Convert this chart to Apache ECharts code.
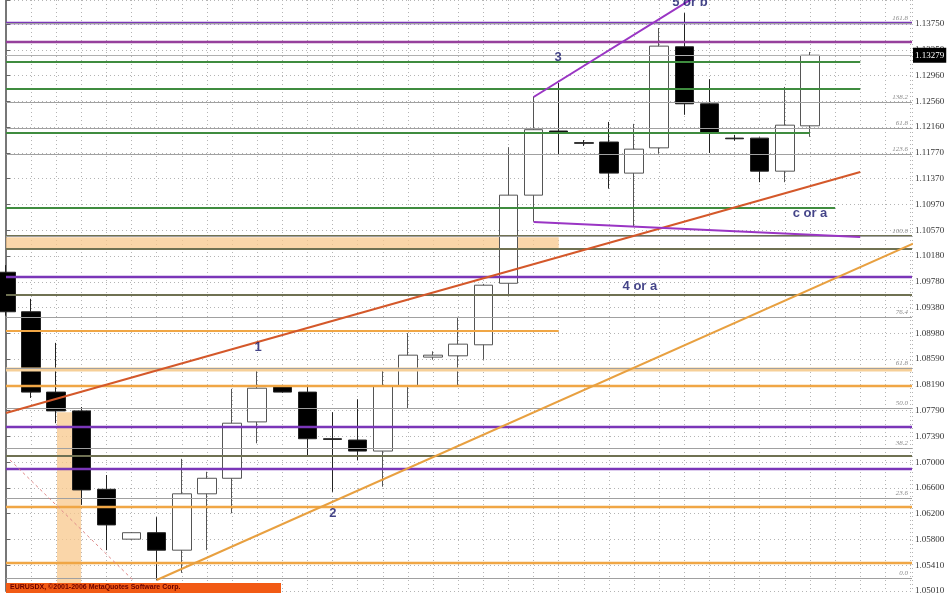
<!DOCTYPE html>
<html><head><meta charset="utf-8">
<script src="https://cdn.jsdelivr.net/npm/echarts@6/dist/echarts.min.js"></script>
<style>html,body{margin:0;padding:0;background:#fff}#c{width:948px;height:593px}</style>
</head><body><div id="c"></div>
<script>
// ---- data ----
const opens  = [1.0993,1.0932,1.0808,1.0779,1.0658,1.0581,1.0591,1.0564,1.0651,1.0675,1.0762,1.0817,1.0808,1.0736,1.0734,1.0717,1.0817,1.0862,1.0864,1.0881,1.0976,1.1112,1.1211,1.1193,1.1194,1.1146,1.1185,1.1341,1.1253,1.1200,1.1200,1.1149,1.1219];
const closes = [1.0932,1.0808,1.0779,1.0657,1.0603,1.0591,1.0564,1.0651,1.0675,1.0760,1.0814,1.0808,1.0736,1.0735,1.0717,1.0817,1.0865,1.0865,1.0882,1.0973,1.1112,1.1213,1.1208,1.1192,1.1146,1.1183,1.1342,1.1253,1.1208,1.1199,1.1149,1.1220,1.13279];
const lows   = [1.0926,1.0799,1.0760,1.0634,1.0564,1.0580,1.0518,1.0529,1.0564,1.0621,1.0729,1.0807,1.0709,1.0654,1.0703,1.0662,1.0783,1.0858,1.0819,1.0858,1.0958,1.1071,1.1174,1.1188,1.1122,1.1063,1.1176,1.1236,1.1177,1.1196,1.1132,1.1132,1.1202];
const highs  = [1.1004,1.0952,1.0884,1.0785,1.0680,1.0592,1.0615,1.0705,1.0685,1.0813,1.0845,1.0819,1.0817,1.0777,1.0797,1.0842,1.0899,1.0871,1.0924,1.0975,1.1186,1.1264,1.1285,1.1197,1.1225,1.1222,1.1370,1.1393,1.1291,1.1205,1.1201,1.1279,1.1333];

const yTickLabels = ["1.05010","1.05410","1.05800","1.06200","1.06600","1.07000","1.07390","1.07790","1.08190","1.08590","1.08980","1.09380","1.09780","1.10180","1.10570","1.10970","1.11370","1.11770","1.12160","1.12560","1.12960","1.13350","1.13750"];
const lastPrice = 1.13279;

const fibValues = [1.05211,1.06446,1.07217,1.07835,1.08452,1.09239,1.10489,1.11755,1.12156,1.12558,1.13777];
const fibNames  = ["0.0","23.6","38.2","50.0","61.8","76.4","100.0","123.6","61.8","138.2","161.8"];

const purpleLevels  = [1.13777,1.09857,1.07541,1.06893];
const magentaLevels = [1.13484];
const greenLevels   = [1.13175,1.12758,1.12079,1.10922];
const greenEnds     = [34,34,32,33];
const oliveLevels   = [1.10489,1.10289,1.09579,1.07094];
const orangeLevels  = [1.08174,1.06307,1.05442];
const orangeShortLevels = [1.09023];
const orangeShortEnd = 22;
const paleOrangeLevels = [1.0843];

// trend lines: [x0, y0, x1, y1] in (bar index, price)
const redTrend     = [0, 1.07757, 34, 1.11477];
const orangeTrend  = [6, 1.0518, 36.1, 1.1037];
const purpleUpper  = [21, 1.12635, 27.3, 1.1415];
const purpleLower  = [21, 1.10706, 34, 1.10474];
const dashedRed    = [0.16, 1.07032, 5.05, 1.0518];

// shaded zones
const hBand = [0, 1.1047, 22, 1.1030];
const vBand = [2.03, 1.0777, 2.99, 1.0497];

const notes = ["1","2","3","5 or b","c or a","4 or a"];
const noteX = [10.03, 13.01, 21.97, 27.22, 32.0, 25.23];
const noteY = [1.08776, 1.06214, 1.13252, 1.14101, 1.10844, 1.09718];

// ---- chart ----
const xMax = 36.06;
const yMin = 1.0501;
const tickStep = yMin / 264;
const yMax = 1.14132;

const candleData = opens.map((o, i) => [i, o, closes[i], lows[i], highs[i]]);

function hLine(v, x0, x1, color, width, z, type) {
  return { type: 'line', data: [[x0, v], [x1, v]], symbol: 'none', silent: true, z: z || 4,
    lineStyle: { color: color, width: width, type: type || 'solid' }, animation: false };
}
function seg(s, color, width, type) {
  return { type: 'line', data: [[s[0], s[1]], [s[2], s[3]]], symbol: 'none', silent: true, z: 5,
    lineStyle: { color: color, width: width, type: type || 'solid' }, animation: false };
}

const series = [];
series.push({
  type: 'line', data: [], z: 1, silent: true,
  markArea: { silent: true, itemStyle: { color: 'rgba(248,200,140,0.75)' },
    data: [
      [{ coord: [hBand[0], hBand[1]] }, { coord: [hBand[2], hBand[3]] }],
      [{ coord: [vBand[0], vBand[1]] }, { coord: [vBand[2], vBand[3]] }]
    ] }
});
series.push({
  type: 'candlestick', data: candleData, barWidth: 19, z: 2,
  encode: { x: 0, y: [1, 2, 3, 4] },
  itemStyle: { color: '#ffffff', color0: '#000000', borderColor: '#555555', borderColor0: '#222222', borderWidth: 1 }
});
// fib lines with labels
series.push({
  type: 'line', data: [], z: 3, silent: true,
  markLine: { silent: true, symbol: 'none', animation: false,
    lineStyle: { color: '#a0a0a0', width: 1, type: 'solid' },
    label: { show: true, position: 'insideEndTop', formatter: '{b}', fontSize: 7, color: '#8a8a8a',
      fontFamily: 'Liberation Serif', fontStyle: 'italic', distance: [4, 1] },
    data: fibValues.map((v, i) => [{ coord: [0, v], name: fibNames[i] }, { coord: [xMax, v] }]) }
});
paleOrangeLevels.forEach(v => series.push(hLine(v, 0, xMax, '#f6cf98', 4, 3)));
oliveLevels.forEach(v => series.push(hLine(v, 0, xMax, '#6f7152', 2, 4)));
orangeLevels.forEach(v => series.push(hLine(v, 0, xMax, '#f0a645', 2.5, 4)));
orangeShortLevels.forEach(v => series.push(hLine(v, 0, orangeShortEnd, '#f0a645', 2, 4)));
greenLevels.forEach((v, i) => series.push(hLine(v, 0, greenEnds[i], '#3f8c3f', 2, 4)));
purpleLevels.forEach(v => series.push(hLine(v, 0, xMax, '#7a36b8', 2.5, 4)));
magentaLevels.forEach(v => series.push(hLine(v, 0, xMax, '#96409c', 2.5, 4)));

series.push(seg(redTrend, '#d4582a', 2));
series.push(seg(orangeTrend, '#e8a040', 2));
series.push(seg(purpleUpper, '#9a35c4', 2));
series.push(seg(purpleLower, '#9a35c4', 2));
series.push(seg(dashedRed, '#e08a8a', 1, [3, 3]));

// last price line + tag
series.push({
  type: 'line', data: [], z: 50, silent: true,
  markLine: { silent: true, symbol: 'none', animation: false,
    lineStyle: { color: '#b0b0b0', width: 1, type: 'solid' },
    label: { show: true, position: 'end', formatter: lastPrice.toFixed(5), backgroundColor: '#000',
      color: '#fff', fontSize: 9, fontFamily: 'Liberation Serif', padding: [3, 2, 3, 2], distance: 1 },
    data: [[{ coord: [0, lastPrice] }, { coord: [xMax, lastPrice] }]] }
});
// annotations
series.push({
  type: 'scatter', z: 7, silent: true, symbolSize: 1, itemStyle: { color: 'rgba(0,0,0,0)' },
  data: notes.map((t, i) => ({ name: t, value: [noteX[i], noteY[i]] })),
  label: { show: true, position: 'inside', formatter: '{b}', color: '#15156a', fontSize: 13,
    fontWeight: 'bold', fontFamily: 'Liberation Sans' }
});

const chart = echarts.init(document.getElementById('c'), null, { renderer: 'canvas' });
chart.setOption({
  animation: false,
  backgroundColor: '#ffffff',
  grid: { left: 6, right: 36, top: 0, bottom: 2, outerBoundsMode: 'none' },
  xAxis: { type: 'value', min: 0, max: xMax, interval: 1,
    axisLine: { show: false }, axisTick: { show: false }, axisLabel: { show: false },
    splitLine: { show: true, lineStyle: { color: '#b4b4b4', type: [1, 3] } } },
  yAxis: [
    { type: 'value', position: 'right', min: yMin, max: yMax, interval: tickStep, z: 0,
      axisLine: { show: true, lineStyle: { color: '#666' } },
      axisTick: { show: true, length: 4, lineStyle: { color: '#666' } },
      axisLabel: { fontFamily: 'Liberation Serif', fontSize: 9, color: '#333', margin: 3,
        formatter: v => { const k = Math.round((v - yMin) / tickStep); return yTickLabels[k] || ''; } },
      splitLine: { show: true, lineStyle: { color: '#b4b4b4', type: [1, 3] } } },
    { type: 'value', position: 'left', min: yMin, max: yMax,
      axisLine: { show: true, lineStyle: { color: '#777', width: 2 } },
      axisTick: { show: false }, axisLabel: { show: false }, splitLine: { show: false } }
  ],
  graphic: [
    { type: 'rect', left: 6, top: 583, shape: { width: 275, height: 10 }, style: { fill: '#f25a14' }, z: 100 },
    { type: 'text', left: 10, top: 584, z: 101,
      style: { text: 'EURUSDX, \u00a92001-2006 MetaQuotes Software Corp.', fill: '#6a0000',
        font: 'bold 7px Liberation Sans' } }
  ],
  series: series
});
</script></body></html>
